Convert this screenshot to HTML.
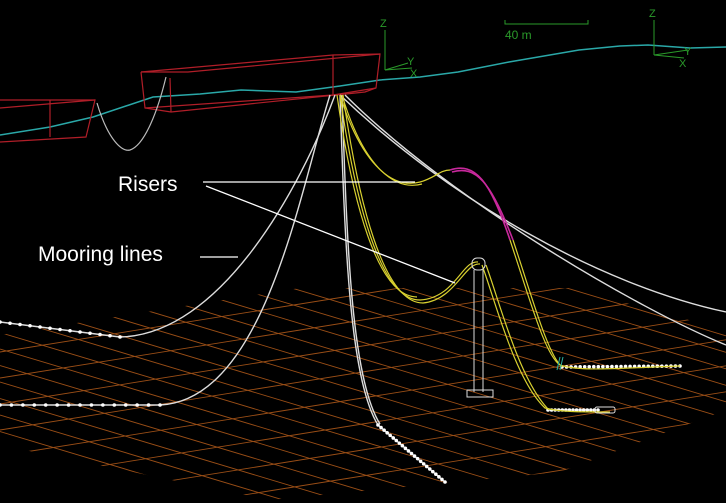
<!DOCTYPE html>
<html><head><meta charset="utf-8"><style>
html,body{margin:0;padding:0;background:#000;width:726px;height:503px;overflow:hidden;}
svg{display:block}
text{font-family:"Liberation Sans",sans-serif}
</style></head><body>
<svg id="s" width="726" height="503" viewBox="0 0 726 503">
<rect width="726" height="503" fill="#000"/>
<defs><clipPath id="gc"><polygon points="0,335 300,288 570,288 726,330 726,410 560,472 270,500 0,445"/></clipPath></defs>
<g id="grid" clip-path="url(#gc)" stroke="#9a4e16" stroke-width="0.9"></g>

<polyline fill="none" stroke="#2aa8a8" stroke-width="1.5" points="0,135 50,127 93,117 153,97 200,94 241,90 296,92 340,86 380,80 420,77 458,72 509,62 579,50 620,46 648,45 690,48 726,47"/>

<g fill="none" stroke="#b01e28" stroke-width="1.2">
<polyline points="141,72 333,55 380,54 376,88 365,92 171,112 145,108 141,72"/>
<polyline points="141,72 188,72 380,54"/>
<line x1="333" y1="55" x2="333" y2="95"/>
<line x1="145" y1="108" x2="333" y2="95"/><line x1="333" y1="95" x2="376" y2="88"/>
<line x1="171" y1="112" x2="170" y2="78"/>
</g>
<g fill="none" stroke="#b01e28" stroke-width="1.2">
<polyline points="0,100 95,100 86,137 0,142"/>
<line x1="0" y1="108" x2="95" y2="100"/>
<line x1="50" y1="100" x2="50" y2="137"/>
</g>
<path d="M97,103 C108,140 122,152 130,150 C145,145 158,110 166,77" fill="none" stroke="#bbb" stroke-width="1.2"/>

<g fill="none" stroke="#ddd" stroke-width="1.4">
<path d="M335,95 C300,190 220,335 120,337"/>
<path d="M330,95 C300,190 265,400 160,405"/>
<path d="M340,95 C345,250 350,380 378,425"/>
<path d="M342,95 C347,250 352,380 380,424"/>
<path d="M340,95 C450,200 600,285 726,312"/>
<path d="M345,95 C450,200 640,310 726,345"/>
<line x1="120" y1="337" x2="0" y2="322"/>
<line x1="160" y1="405" x2="0" y2="405"/>
<line x1="378" y1="425" x2="445" y2="482"/>
</g>
<g id="chains" fill="#fff"></g>

<g fill="none" stroke="#d8d030" stroke-width="1.2">
<path d="M340,95 C360,160 390,190 420,182 C435,178 440,170 450,170"/>
<path d="M342,95 C362,162 392,192 422,184"/>
<path d="M510,240 C530,300 545,355 560,365 C580,372 620,368 680,366"/>
<path d="M513,240 C533,300 548,355 562,367"/>
<path d="M340,95 C355,200 380,300 420,300 C455,298 462,260 478,262"/>
<path d="M343,95 C358,200 383,303 423,303 C455,300 465,262 480,264"/>
<path d="M337,95 C352,200 377,297 417,297"/>
<path d="M482,265 C495,300 515,380 545,408 C560,412 580,412 610,412"/>
<path d="M486,265 C499,300 519,380 549,410"/>
</g>
<g fill="none" stroke="#c8289c" stroke-width="1.6">
<path d="M450,170 C475,162 490,180 510,240"/>
<path d="M452,172 C476,165 491,182 513,240"/>
</g>
<g fill="none" stroke="#ddd" stroke-width="1">
<rect x="472" y="258" width="13" height="12" rx="5"/>
<line x1="474" y1="270" x2="474" y2="392"/><line x1="483" y1="270" x2="483" y2="392"/>
<rect x="467" y="390" width="26" height="7"/>
<rect x="595" y="407" width="20" height="6" rx="2"/>
</g>
<g stroke="#2ab0a0" stroke-width="1"><line x1="560" y1="357" x2="557" y2="370"/><line x1="563" y1="357" x2="560" y2="370"/></g>

<g fill="none" stroke="#2a9a2a" stroke-width="1">
<line x1="385" y1="30" x2="385" y2="70"/><line x1="385" y1="70" x2="412" y2="68"/><line x1="385" y1="70" x2="408" y2="63"/>
</g>
<text x="380" y="27" fill="#2a9a2a" font-size="11">Z</text>
<text x="407" y="65" fill="#2a9a2a" font-size="11">Y</text>
<text x="410" y="77" fill="#2a9a2a" font-size="11">X</text>
<g fill="none" stroke="#2a9a2a" stroke-width="1">
<polyline points="505,20 505,24 588,24 588,20"/></g>
<text x="505" y="39" fill="#2a9a2a" font-size="12">40 m</text>
<g fill="none" stroke="#2a9a2a" stroke-width="1">
<line x1="654" y1="20" x2="654" y2="55"/><line x1="654" y1="55" x2="684" y2="58"/><line x1="654" y1="55" x2="688" y2="50"/>
</g>
<text x="649" y="17" fill="#2a9a2a" font-size="11">Z</text>
<text x="684" y="55" fill="#2a9a2a" font-size="11">Y</text>
<text x="679" y="67" fill="#2a9a2a" font-size="11">X</text>

<text x="118" y="191" fill="#fff" font-size="21">Risers</text>
<g stroke="#fff" stroke-width="1.3">
<line x1="203" y1="182" x2="415" y2="182"/><line x1="206" y1="186" x2="455" y2="283"/></g>
<text x="38" y="261" fill="#fff" font-size="21">Mooring lines</text>
<line x1="200" y1="257" x2="238" y2="257" stroke="#fff" stroke-width="1.3"/>
</svg>
<script>
var NS="http://www.w3.org/2000/svg";
var g=document.getElementById('grid');
var SA=0.16, SB=0.3, YMAX=502;
for(var i=-2;i<12;i++){
  var y0=300+i*26;
  var xs=0, ys=y0;
  if(y0>YMAX){xs=(y0-YMAX)/SA; ys=YMAX;}
  if(xs>=726) continue;
  var l=document.createElementNS(NS,'line');
  
  
  l.setAttribute('x1',xs);l.setAttribute('y1',ys);
  l.setAttribute('x2',726);l.setAttribute('y2',y0-726*SA);
  g.appendChild(l);
}
for(var j=-16;j<14;j++){
  var x0=j*55, y1=250;
  var xe=x0+(YMAX-y1)/SB, ye=YMAX;
  if(xe>726){xe=726; ye=y1+(726-x0)*SB;}
  var xs2=Math.max(0,x0), ys2=y1+(xs2-x0)*SB;
  if(xs2>=xe) continue;
  var m=document.createElementNS(NS,'line');
  
  
  m.setAttribute('x1',xs2);m.setAttribute('y1',ys2);
  m.setAttribute('x2',xe);m.setAttribute('y2',ye);
  g.appendChild(m);
}
var ch=document.getElementById('chains');
var segs=[[120,337,0,322,12],[160,405,0,405,14],[378,425,445,482,22],[562,367,680,366,26],[548,410,598,410,14]];
segs.forEach(function(s){
  for(var k=0;k<=s[4];k++){
    var c=document.createElementNS(NS,'circle');
    
    
    c.setAttribute('cx',s[0]+(s[2]-s[0])*k/s[4]);
    c.setAttribute('cy',s[1]+(s[3]-s[1])*k/s[4]);
    c.setAttribute('r',1.8);
    ch.appendChild(c);
  }
});
</script>
</body></html>
